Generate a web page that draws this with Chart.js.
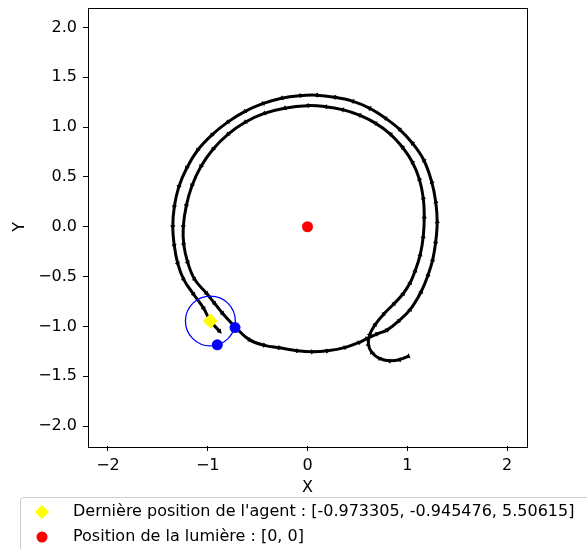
<!DOCTYPE html>
<html>
<head>
<meta charset="utf-8">
<script src="https://cdn.jsdelivr.net/npm/chart.js@4.4.1/dist/chart.umd.min.js"></script>
<style>
  html, body { margin: 0; padding: 0; background: #fff; }
  canvas { display: block; }
</style>
</head>
<body>
<canvas id="chartAgent" width="587" height="549"></canvas>
<script>
// trajectoire de l'agent (depart en bas a droite)
const pathX = [1.01, 0.92, 0.82, 0.72, 0.645, 0.61, 0.625, 0.68, 0.77, 0.87, 0.96, 1.03, 1.08, 1.13, 1.16, 1.17,
  1.16, 1.12, 1.05, 0.95, 0.83, 0.68, 0.52, 0.35, 0.18, 0.0, -0.23, -0.434, -0.625, -0.798, -0.947, -1.068,
  -1.157, -1.215, -1.245, -1.24, -1.20, -1.13, -1.01, -0.93, -0.85, -0.71, -0.58, -0.43, -0.28, -0.1, 0.05, 0.2,
  0.38, 0.52, 0.60, 0.70, 0.80, 0.92, 1.03, 1.14, 1.21, 1.255, 1.285, 1.30, 1.285, 1.245, 1.165, 1.05, 0.92, 0.78,
  0.62, 0.45, 0.27, 0.09, -0.08, -0.26, -0.45, -0.63, -0.80, -0.96, -1.10, -1.21, -1.29, -1.335, -1.35,
  -1.335, -1.30, -1.24, -1.14, -1.04, -0.973, -0.88];
const pathY = [-1.30, -1.335, -1.345, -1.32, -1.26, -1.18, -1.08, -0.98, -0.87, -0.77, -0.67, -0.56, -0.44, -0.28,
  -0.10, 0.10, 0.29, 0.48, 0.65, 0.80, 0.93, 1.04, 1.12, 1.175, 1.205, 1.215, 1.19, 1.137, 1.048, 0.927, 0.778,
  0.605, 0.414, 0.21, 0.0, -0.18, -0.36, -0.53, -0.67, -0.77, -0.87, -1.02, -1.135, -1.19, -1.215, -1.245,
  -1.255, -1.245, -1.21, -1.16, -1.12, -1.075, -1.035, -0.94, -0.83, -0.65, -0.48, -0.33, -0.15, 0.05, 0.25,
  0.45, 0.67, 0.84, 0.98, 1.09, 1.19, 1.26, 1.30, 1.32, 1.315, 1.29, 1.235, 1.155, 1.05, 0.92, 0.77, 0.59, 0.40,
  0.20, 0.0, -0.19, -0.37, -0.53, -0.68, -0.82, -0.945, -1.05];

const agentX = [-0.973305];
const agentY = [-0.945476];
const agentRadius = 0.25;
const sensorX = [-0.726, -0.904];
const sensorY = [-1.012, -1.185];
const lightX = [0];
const lightY = [0];

const xTicks = [-2, -1, 0, 1, 2];
const yTicks = [-2, -1.5, -1, -0.5, 0, 0.5, 1, 1.5, 2];

const agentLabel = "Dernière position de l'agent : [-0.973305, -0.945476, 5.50615]";
const lightLabel = "Position de la lumière : [0, 0]";

function toPoints(xs, ys) {
    return xs.map((x, i) => ({x: x, y: ys[i]}));
}

// rotation de chaque pointe de fleche, vers le point suivant
function arrowRotation(xs, ys) {
    return xs.map((x, i) => {
        const a = i < xs.length - 1 ? i : i - 1;
        const ang = Math.atan2(ys[a + 1] - ys[a], xs[a + 1] - xs[a]) * 180 / Math.PI;
        return 90 - ang;
    });
}

const font = {family: 'DejaVu Sans', size: 16};
const minus = s => s.replace('-', '\u2212');

const frame = {
    id: 'frame',
    afterDatasetsDraw(chart) {
        const a = chart.chartArea;
        const ctx = chart.ctx;
        ctx.save();
        ctx.strokeStyle = '#000';
        ctx.lineWidth = 1;
        ctx.strokeRect(Math.round(a.left) + 0.5, Math.round(a.top) + 0.5,
            Math.round(a.right - a.left), Math.round(a.bottom - a.top));
        ctx.restore();
    }
};

const legendBox = {
    id: 'legendBox',
    afterDraw(chart) {
        const ctx = chart.ctx;
        ctx.save();
        ctx.fillStyle = 'rgba(255,255,255,0.8)';
        ctx.strokeStyle = '#cccccc';
        ctx.lineWidth = 1;
        ctx.beginPath();
        ctx.roundRect(20.5, 497.5, 640, 80, 3);
        ctx.fill();
        ctx.stroke();
        const items = chart.data.datasets.filter(d => d.inLegend);
        items.forEach((d, i) => {
            const y = 512 + i * 25;
            ctx.fillStyle = d.backgroundColor;
            ctx.beginPath();
            if (d.pointStyle === 'rectRot') {
                ctx.moveTo(42, y - 7);
                ctx.lineTo(49, y);
                ctx.lineTo(42, y + 7);
                ctx.lineTo(35, y);
                ctx.closePath();
            } else {
                ctx.arc(42, y, 5.5, 0, Math.PI * 2);
            }
            ctx.fill();
            ctx.fillStyle = '#000';
            ctx.font = '16px "DejaVu Sans"';
            ctx.textBaseline = 'middle';
            ctx.fillText(d.label, 73, y);
        });
        ctx.restore();
    }
};

const ctx = document.getElementById('chartAgent').getContext('2d');
const myChart = new Chart(ctx, {
    type: 'scatter',
    data: {
        datasets: [{
            label: 'trajectoire',
            data: toPoints(pathX, pathY),
            showLine: true,
            tension: 0.4,
            borderColor: '#000',
            borderWidth: 3,
            pointStyle: 'triangle',
            pointRadius: 3,
            pointRotation: arrowRotation(pathX, pathY),
            pointBackgroundColor: '#000',
            pointBorderWidth: 0,
            order: 5
        }, {
            label: 'capteurs zone',
            data: toPoints(agentX, agentY),
            pointStyle: 'circle',
            pointRadius: c => {
                const s = c.chart.scales.x;
                return Math.abs(s.getPixelForValue(agentRadius) - s.getPixelForValue(0));
            },
            backgroundColor: 'rgba(0,0,0,0)',
            borderColor: '#0000ff',
            pointBorderWidth: 1.3,
            order: 4
        }, {
            label: 'capteurs',
            data: toPoints(sensorX, sensorY),
            pointStyle: 'circle',
            pointRadius: 5.5,
            backgroundColor: '#0000ff',
            borderWidth: 0,
            order: 3
        }, {
            label: agentLabel,
            inLegend: true,
            data: toPoints(agentX, agentY),
            pointStyle: 'rectRot',
            pointRadius: 7.5,
            backgroundColor: '#ffff00',
            borderWidth: 0,
            order: 2
        }, {
            label: lightLabel,
            inLegend: true,
            data: toPoints(lightX, lightY),
            pointStyle: 'circle',
            pointRadius: 5.5,
            backgroundColor: '#ff0000',
            borderWidth: 0,
            order: 1
        }]
    },
    options: {
        responsive: false,
        animation: false,
        events: [],
        layout: {padding: {left: 0, top: 7, right: 60, bottom: 48}},
        plugins: {legend: {display: false}, tooltip: {enabled: false}},
        scales: {
            x: {
                type: 'linear',
                min: -2.2,
                max: 2.2,
                afterBuildTicks: s => { s.ticks = xTicks.map(v => ({value: v})); },
                afterFit: s => { s.height = 55; s.paddingLeft = 0; s.paddingRight = 0; },
                border: {display: false},
                grid: {drawOnChartArea: false, drawTicks: true, tickLength: 5, color: '#000', lineWidth: 1},
                ticks: {color: '#000', font: font, padding: 5, maxRotation: 0,
                    callback: v => minus(String(v))},
                title: {display: true, text: 'X', color: '#000', font: font, padding: {top: 4, bottom: 4}}
            },
            y: {
                type: 'linear',
                min: -2.2,
                max: 2.2,
                afterBuildTicks: s => { s.ticks = yTicks.map(v => ({value: v})); },
                afterFit: s => { s.width = 88; s.paddingTop = 0; s.paddingBottom = 0; },
                border: {display: false},
                grid: {drawOnChartArea: false, drawTicks: true, tickLength: 5, color: '#000', lineWidth: 1},
                ticks: {color: '#000', font: font, padding: 6,
                    callback: v => minus(v.toFixed(1))},
                title: {display: true, text: 'Y', color: '#000', font: font, padding: {top: 10.4, bottom: 4}}
            }
        }
    },
    plugins: [frame, legendBox]
});
</script>
</body>
</html>
